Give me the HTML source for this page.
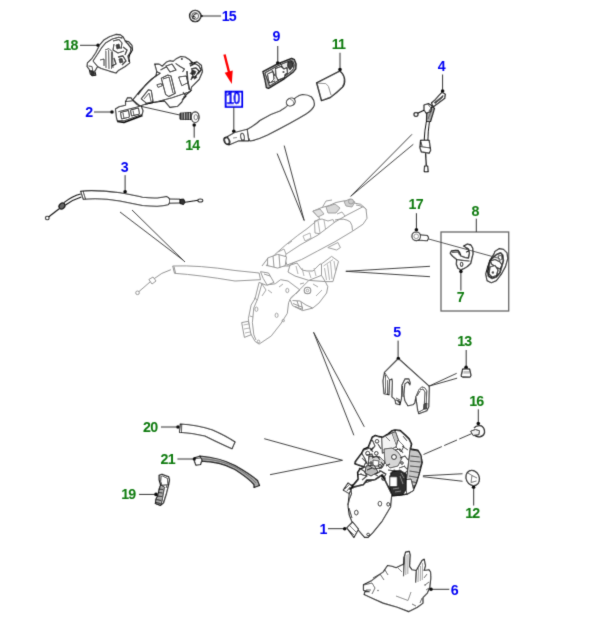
<!DOCTYPE html>
<html><head><meta charset="utf-8">
<style>
html,body{margin:0;padding:0;background:#fff;width:600px;height:634px;overflow:hidden}
svg{display:block}
text{font-family:"Liberation Sans",sans-serif;font-weight:bold;font-size:15px}
</style></head><body>
<svg width="600" height="634" viewBox="0 0 600 634">
<defs><filter id="sf" x="0" y="0" width="600" height="634" filterUnits="userSpaceOnUse"><feConvolveMatrix order="3" kernelMatrix="0.01440 0.09120 0.01440 0.09120 0.57760 0.09120 0.01440 0.09120 0.01440" divisor="1" preserveAlpha="false" edgeMode="duplicate"/></filter></defs>
<g filter="url(#sf)">
<!-- ===== box 10 + red arrow ===== -->
<rect x="225.7" y="91.7" width="16.4" height="15.1" fill="#fff" stroke="#0000f4" stroke-width="2"/>
<text transform="matrix(0.86 0 0 1.06 226.8 104.2)" fill="#0000f4" stroke="#0000f4" stroke-width="0.45" letter-spacing="-0.9">10</text>
<line x1="224.5" y1="54.5" x2="229.5" y2="74" stroke="#f00" stroke-width="2.4"/>
<polygon points="224.7,72.7 232.7,70.4 231.8,84" fill="#f00"/>

<!-- ===== gray leader lines ===== -->
<g stroke="#383838" stroke-width="0.95" fill="none">
<path d="M120 212L183 260M132 210L185 262"/>
<path d="M277.1 153.5L304.2 220.5M284.2 145.6L304.2 220.5"/>
<path d="M412 134.3L350.7 196.3M413.3 144.3L350.7 196.3"/>
<path d="M345.8 271.3L430 266.3M345.8 271.3L430 276.7"/>
<path d="M313.6 332.3L353.9 435.3M313.6 332.3L364.3 426.8"/>
<path d="M264.2 438.7L342.5 460.3M270 474.7L342.5 460.3"/>
<path d="M422.9 475.8L462.5 473.75M422.9 476.7L462.5 481.25"/>
<path d="M423.5 454.5L471.8 433.6" stroke-dasharray="20 2.5 14 2.5 40"/>
<path d="M456.7 373.3L428.75 386.25M457.1 378.2L428.75 386.25"/>
<path d="M140.3 106.2L179.7 115"/>
</g>
<rect x="441" y="232" width="67.7" height="79" fill="none" stroke="#666" stroke-width="1.3"/>

<!-- ===== central assembly (light gray) ===== -->
<g stroke="#8c8c8c" stroke-width="0.95" fill="#fff" stroke-linejoin="round">
<!-- light cable -->
<path d="M172.7 266Q199 265 235 270.5L259.1 273L260.5 279.7L235 281Q199 275 174.5 273.3Z"/>
<path d="M174 266.5L175.5 273" fill="none"/>
<path d="M170.9 269.7Q162 272 152.5 279.8L137.8 292.6" fill="none"/>
<path d="M148.9 279.5L153 277L156 281L152 284Z"/>
<circle cx="137.5" cy="292.8" r="1.8"/>
<!-- lower plate -->
<path d="M259.1 282.4L255.1 298.5L251.1 305.2L248.4 318.6L249.7 332L255.1 341.4L259.1 344.1L271.2 336L280.6 324L287.3 313.3L288.6 302.5L291.3 297.2L300 290L288 281L280.6 279.7L275.2 283.8L265.8 285.1Z"/>
<path d="M261.8 283.8L257.8 298.5L253.8 307.9L252.4 322.6L253.8 334.7L256 340" fill="none"/>
<path d="M241.7 322.6L248.4 321.3L251.1 334.7L244.4 337.4Z"/>
<path d="M243.5 325L248.5 324M244 329L249.5 328M245 333L250 332" fill="none" stroke-width="0.7"/>
<ellipse cx="287.3" cy="290.5" rx="1.5" ry="2.2" fill="none" stroke="#999"/>
<ellipse cx="256.4" cy="309.2" rx="1.5" ry="2.2" fill="none" stroke="#999"/>
<ellipse cx="276.6" cy="315.3" rx="1.5" ry="2.2" fill="none" stroke="#999"/>
<circle cx="283.3" cy="320.6" r="1.2" fill="none" stroke="#999"/>
<circle cx="258.5" cy="341.4" r="1.3" fill="none" stroke="#999"/>
<path d="M254 298L258 300M250 316L253 317M262 284L266 290L262 296M279 287L283 284M268 290L272 293" fill="none" stroke="#999"/>
<!-- mechanism lower right -->
<path d="M290 299.3L308.9 280.4L325.3 281.6L327.8 286.7L326.6 293L319 303L312.7 308.1L302.6 310.6L292.5 305.6Z"/>
<path d="M292.5 300.5L300 301L306 305L312.7 308M293 303.5L303 307.5M295 306.5L303 309.5M297 301L299 307M301 302L302.5 309" fill="none" stroke="#888"/>
<circle cx="307.5" cy="290.5" r="3.3" fill="none" stroke="#888" stroke-width="1.1"/>
<circle cx="307.5" cy="290.5" r="1.3" fill="none" stroke="#999"/>
<path d="M300 284L304 283M313 284L318 287M316 296L322 290M296 294L300 290" fill="none" stroke="#999"/>
<!-- rib box -->
<path d="M321.5 264L331.6 256.4L338.5 261.4L332.9 281.6L325.3 281.6L321.5 275.3Z"/>
<path d="M323.5 266L333 259.5M324.5 268L326.5 280M327.5 264.5L329.5 280M330.5 262L332 279M334 261L335.5 271" fill="none" stroke="#aaa"/>
<path d="M327.8 247.6L337.9 242.5L340.4 247.6L336.6 250Z" fill="none" stroke="#999"/>
<!-- under-cover bracket -->
<path d="M290 265.2L297 263L302 270L307 271L313 271L320 264L321.5 264L321.5 275.3L308.9 280.4L295 276L288 272Z"/>
<path d="M296 266L298 274M302 268L304 276M309 272L311 278M314 268L316 276" fill="none" stroke="#aaa"/>
<!-- bracket above cover -->
<path d="M266.3 265.6L275.1 254.3L285.2 245.4L297.8 235.4L307 228.8L314 223L319.8 218.3L312.8 211.3L321 207.8L329.2 205.5L336 202.5L344.3 200.8L349 202L354.8 203.2L360.7 204.3L366 209L363 220L341 236L320 248L300 258L289 266Z"/>
<path d="M314.5 221L322 219L328 221L333 219.5L335 224L330 232L322 234L315 233Z" fill="none" stroke="#999"/>
<path d="M318 221L320 233M324 220L326 232M303 236L310 233L311 238L305 241Z" fill="none" stroke="#aaa"/>
<path d="M313 211L320 209L324 214L318 217Z" fill="#e2e2e2" stroke="#999"/>
<path d="M326 207L335 204L340 208L336 213L328 213Z" fill="#d8d8d8" stroke="#999"/>
<path d="M344 201.5L350 199L355 202L352 207L346 206Z" fill="#d0d0d0" stroke="#999"/>
<circle cx="351" cy="201.5" r="2.5" fill="#ccc" stroke="#999"/>
<path d="M337 214L342 212L345 216M356 205L361 206L364 210" fill="none" stroke="#999"/>
<path d="M322 208L326 201L332 200M278 252L284 249L286 254M288 244L292 241M274 258L279 256" fill="none" stroke="#999"/>
<!-- handle cover -->
<path d="M285.9 254.3L300 245L318 235L335 222L347 215L363 206.7L366 209L367 218.3L363 224.2L352.5 231.2L335 241.7L317.5 251L301.6 259.5L287.1 265Q283.5 260 285.9 254.3Z"/>
<path d="M335 220Q344 217.5 350.2 221.8Q352.5 225 352.5 230.5" fill="none"/>
<!-- connector left of cover -->
<path d="M267.6 258L277.7 254.3L286.5 256.8L285.2 265.6L277.7 268.1L267.6 265.6Z"/>
<path d="M273 256L274 267M279 255L280 267.5" fill="none"/>
<path d="M260.5 271.7L268.5 273L273.9 282.4L267.2 285.1L263.2 278.4Z"/>
<path d="M262 266L268 258M264 274L270 276" fill="none"/>
</g>
<!-- ===== part 15 nut ===== -->
<g stroke="#111" fill="none">
<circle cx="195.2" cy="16" r="5.6" stroke-width="1.4" fill="#f4f4f4"/>
<circle cx="195.2" cy="16" r="3.4" stroke-width="1" stroke="#555"/>
<path d="M192.5 18.5Q193 14 197 13.5" stroke-width="1.2"/>
<circle cx="194" cy="17.5" r="1.2" stroke-width="0.9"/>
<path d="M200.5 14.8L203 16L200.5 17.2Z" fill="#111" stroke-width="0.8"/>
</g>

<!-- ===== part 18 ===== -->
<g stroke="#111" stroke-width="1.1" fill="#fff" stroke-linejoin="round">
<path d="M87.5 62.9L92.1 58.3L95.8 52.8L99.4 45.4L104 39.9L109.5 36.7L115.9 34.4L120.5 34.9L123.3 37.2L125.1 40.8L128.8 41.8L132 45.4L132.5 50L129.7 54.6L128.8 58.3L129.7 62.9L125.1 66.5L118.7 70.2L116 73L109.5 71.1L101.3 68.4L97.6 66.5L94.8 71.1L95.8 75.2L92.1 75.7L90.3 73.9L89.3 69.3L87 66.5Z"/>
<path d="M93 61L98.5 52.8L101.3 48.2L105.9 42.7L112.3 39L118.7 37.2L122.4 38.1" fill="none"/>
<path d="M97.6 66.5L93 61" fill="none"/>
<path d="M105 50L109 48.5L112.5 52L113 68M105.9 51L106 68M108.6 50L109 69M111.4 52L111.5 69" fill="none" stroke-width="0.8"/>
<path d="M113 41L119 39.5L122 43L121 49M114 44L113 50L118 53L124 51" fill="none" stroke-width="1.1"/>
<path d="M116 45L119 44L120 48L117 49Z" fill="#444" stroke-width="0.8"/>
<path d="M125 41L128 44L131 48L130.5 52L128 56L129 62M123 47L127 50L125 55M118 57L123 56L126 61L122 65M114 58L116 64L112 66" fill="none" stroke-width="1.3"/>
<path d="M119 59L122 58.5L123 62L120 63Z" fill="#555" stroke-width="0.8"/>
<path d="M100 60L104 59L104 66M88.5 66L92 66.5L93 72" fill="none" stroke-width="0.9"/>
<path d="M89.5 70L94 71.5L94.5 74.5L91 75" fill="#333" stroke-width="0.8"/>
</g>
<!-- ===== part 2 ===== -->
<g stroke="#111" stroke-width="1.1" fill="#fff" stroke-linejoin="round">
<path d="M154.75 64.1L159.1 64.1L162.3 66.25L166.7 61.9L170 60.8L173.2 61.4L176.4 58.7L180.75 56.5L185.1 57L189.4 59.75L192.7 63L197 61.9L201.3 65.2L202.4 71.7L199.2 79.25L191.6 86.8L190.5 91.2L184 96.6L181.8 102L177.5 106.3L170 107.4L164.5 100.9L155.8 102L145 104.2L140 106L132.9 99.8L140.3 90.6L148.5 82.3L155.9 75.9L156.9 71.7Z"/>
<path d="M156.9 71.7L160.2 73.3L151.5 79.25L145 85.75L138 95" fill="none"/>
<path d="M145 104.2L155.8 102L172.1 97.7L188.3 92.25L191.6 90" fill="none"/>
<path d="M161.25 78.2L167.75 75L171 76L175.3 93.3L168.8 96.6L165.6 94.4Z"/>
<path d="M163 79L169 77L173 93M156.9 84.7L161.25 83.6L162.3 85.75L158 87.4Z" fill="none" stroke-width="0.9"/>
<path d="M141.2 98.9L148.5 89.7L151.3 90.6L153.1 101.6L146.7 103.4Z"/>
<path d="M144 99L149 93L151 101" fill="none" stroke-width="0.8"/>
<path d="M178.6 77L186 76L188.3 82.5L181.8 85.75Z" fill="none" stroke-width="1"/>
<circle cx="181.8" cy="59" r="1" fill="#111" stroke="none"/>
<path d="M166 66L172 64L176 70L170 72ZM160.5 70L166 67" fill="none" stroke-width="1.2"/>
<path d="M175.6 63.4L180 66.5L184.5 69L182.5 72" fill="none" stroke-width="1.1"/>
<path d="M187 71L187.6 80.4L189.5 89.9" fill="none" stroke-width="1.6"/>
<path d="M190 66L195 63.5L199 66L201 70L198 74M191 69L196 68L199 71L196 76L192 78M190 73L193 75L191 80M194 79L197 77M189.5 64L192.5 62.5" fill="none" stroke-width="1.4"/>
<path d="M192 70L196 71.5L194.5 74.5L191.5 73Z" fill="#333" stroke-width="0.9"/>
<path d="M183 92L186 96L182 100" fill="none" stroke-width="1.1"/>
<!-- left block -->
<path d="M115.5 109L119.2 106.7L125.6 105.3L125.6 101.6L127.4 97.9L131.1 97.9L132.9 100.7L136.6 104.4L141.2 106.2L143 110.8L142.1 114.4L123.8 120.9L117.3 120.9L116.4 117.2Z"/>
<path d="M118.3 111.7L140.3 106.2M125.6 101.6L131.1 101L132.9 100.7" fill="none" stroke-width="0.9"/>
<path d="M117.3 121.5L124 122.5L142.5 115.5" fill="none" stroke-width="1.6"/>
<path d="M120.5 112.5L128.5 110.5L129.5 117L121.5 119ZM130.5 110L138.5 108L139.5 114L131.5 116Z" fill="none" stroke-width="1"/><path d="M123 113L124 118.5M133 110.5L134 115.5" fill="none" stroke-width="0.8"/>
</g>
<!-- ===== part 14 bolt ===== -->
<g stroke="#111" stroke-width="1" stroke-linejoin="round">
<path d="M180 113.2L191 112.5L191 119.5L180 119.2Z" fill="#333"/>
<path d="M182 113V119.2M184.5 113V119.3M187 112.8V119.4M189.5 112.7V119.5" stroke="#fff" stroke-width="0.6"/>
<ellipse cx="195.2" cy="117.2" rx="3.9" ry="5.3" fill="#fff" stroke-width="1.2"/>
<ellipse cx="195.8" cy="117.2" rx="1.8" ry="2.6" fill="none" stroke="#777"/>
</g>

<!-- ===== part 9 ===== -->
<g stroke="#111" stroke-width="1.3" stroke-linejoin="round">
<path d="M262.9 71.6L277.6 63.9L291.6 58.3L294.4 59.7L296.1 63.9L295.8 68.8L293 72.3L284.6 78.6L268.5 88.4L266.4 87.7L265 80Z" fill="#a8a8a8"/>
<path d="M265 73L277.5 66L290.5 60.5L293 61.5L294 65L293.5 68.5L291 71.5L283.5 77L269.5 86L267.5 80Z" fill="#e8e8e8" stroke-width="0.9"/>
<path d="M275.5 68.5L281 66.5L284 69L287 67.5L287.4 73L285 74.5L284.5 77.5L278 80L276 76Z" fill="#fff" stroke-width="1.1"/>
<path d="M267.5 74L273 71.5L274 79L270 83L268.5 80Z" fill="#fff" stroke-width="1"/>
<path d="M288 62L292 61.5L293 66L290 70L287.5 66Z" fill="#444" stroke-width="0.9"/>
<circle cx="283.5" cy="72" r="1" fill="#111" stroke="none"/>
<path d="M269 83L275 81M280 62.5L283 68M272 70L275 76" fill="none" stroke-width="0.9"/>
</g>
<!-- ===== part 11 ===== -->
<g stroke="#222" stroke-width="1.5" fill="#fff" stroke-linejoin="round">
<path d="M316.7 82.8L339.7 71.1Q343.5 73.5 344.5 79Q345 84 342.5 87Q337 92.5 330.2 97.5L321.5 100.6Z"/>
<path d="M318 83.2L325.8 83.6L328.4 86.3L331 95" fill="none" stroke="#888" stroke-width="1"/>
</g>

<!-- ===== part 10 handle ===== -->
<g stroke="#222" stroke-width="1.15" fill="#fff" stroke-linejoin="round">
<path d="M247.2 129.5Q254 126 260 120.5Q270 114 280 111Q286 108 290 103Q296 96 302.5 94.5Q308 94.5 311.5 97Q315 101 314.2 105.5Q312.5 110 306 114Q292 122.5 267.5 135Q257 140 250 141Q246.5 136 247.2 129.5Z"/>
<path d="M227.2 136.7L234.7 132.5L247.2 129.2L248.8 140.8L238.8 140.8L228.8 145Z"/>
<ellipse cx="242.5" cy="136.8" rx="1.8" ry="3.6" transform="rotate(-10 242.5 136.8)" fill="none" stroke-width="1"/>
<ellipse cx="226.9" cy="140.8" rx="2.4" ry="3.5" transform="rotate(-25 226.9 140.8)" fill="#fff" stroke-width="1.8"/>
<ellipse cx="290.8" cy="102" rx="4.6" ry="3.8" transform="rotate(-30 290.8 102)" stroke-width="1.1"/>
<path d="M290 99Q294 100 294 104" fill="none" stroke-width="0.8" stroke="#666"/>
<path d="M233 138L237 137.5" fill="none" stroke-width="0.8" stroke="#666"/>
</g>
<!-- ===== part 3 cable ===== -->
<g stroke="#111" stroke-width="1.1" fill="#fff" stroke-linejoin="round">
<path d="M80.7 194Q72 196 64 202.7" fill="none"/>
<path d="M81.3 197Q73 199.5 65.5 205" fill="none"/>
<ellipse cx="62" cy="206" rx="3.2" ry="2.6" transform="rotate(-40 62 206)" fill="#666" stroke-width="1.2"/>
<path d="M59.5 208.5L48.5 217" fill="none"/>
<circle cx="47.3" cy="218" r="1.8" fill="#fff"/>
<path d="M80.7 191.3Q93 189.5 120 192.75Q135 195.5 142.5 197.25Q150 198.3 157.5 198Q163 197.3 166.5 196.5Q170 198 169.8 201Q169.5 204 168 204.75Q163 206 157.5 206.25Q150 206.3 142.5 205.5Q130 203 120 201Q100 197.5 83.3 199.3Z"/>
<path d="M83 191L85.5 199" fill="none" stroke-width="0.9"/>
<path d="M169.5 199L180 199.2L180 203L169.5 203.2Z" stroke-width="1"/>
<path d="M180 199.5L183.5 199L185 202L183.5 204.5L180 203.5Z" fill="#333" stroke-width="1"/>
<path d="M185 202.3Q192 201.3 198 200.3" fill="none"/>
<ellipse cx="200.3" cy="200.5" rx="2.4" ry="1.5" fill="#fff"/>
</g>
<!-- ===== part 4 cable ===== -->
<g stroke="#111" stroke-width="1.2" fill="#fff" stroke-linejoin="round">
<path d="M442 92.3L445.3 94.3L444.7 98.3L436.7 104.3L433.3 106.8L431.5 103L435.3 99.7L440.7 93.7Z"/>
<path d="M434 103L443 95.5L442.5 97.5L435 103.5" fill="#777" stroke-width="0.9"/>
<path d="M426.7 113.7L432 107L434.5 108.3L430.5 121.5L426.5 121.5Z" fill="#aaa"/>
<path d="M428 119L432 109" fill="none" stroke="#555" stroke-width="0.8"/>
<path d="M424 105L428.7 103.7L432 105.7L430.7 111.7L426 113L424 109.7Z"/>
<path d="M428 104.5L431 108L429 111" fill="none" stroke-width="0.8"/>
<path d="M424 110.3L417.7 113.3" fill="none"/>
<ellipse cx="416" cy="114.5" rx="2" ry="1.8" fill="#fff"/>
<path d="M426.3 122Q424.5 131 424.2 140.4M429.4 122Q428 131 427.9 140.4" fill="none" stroke-width="1"/>
<path d="M420.6 140.4L429.1 140.4L430.6 150.3L429.1 153.2L421.3 151.8L419.9 147.5Z"/>
<path d="M420.2 146.5L430.3 148M421 141.5L422 146" fill="none" stroke-width="0.9"/>
<path d="M425.6 153.2L426.3 166" fill="none"/>
<path d="M424.6 166L427.6 166L428.2 171.6L424.3 171.6Z"/>
</g>
<!-- ===== part 17 bolt ===== -->
<g stroke="#111" stroke-width="1.1" fill="#fff">
<path d="M417 234.5L427 235.5Q430 238 427 240.8L417 240Z"/>
<circle cx="416.2" cy="236.3" r="4.3"/>
<circle cx="416.2" cy="236.3" r="2.3" stroke="#888" stroke-width="0.9"/>
</g>

<!-- ===== part 7 striker ===== -->
<g stroke="#1a1a1a" stroke-width="1.3" fill="#fff" stroke-linejoin="round" stroke-linecap="round">
<path d="M463.6 246L467.4 244.1L470.8 245L472.7 248.3L473 253.8L471.9 258.2L470.8 263.2L467.4 266.5L463.6 268.7L460.8 269.8L458 268.2L456.4 264.3L456.7 259.5L452.5 256L450.3 253.3L451.4 251L455.8 250.5L458 250.5L459.7 252.7L460.8 256L465.2 257.7L468.5 258L469.5 253L468.5 249L466 247.5Z"/>
<path d="M456.7 259.5Q462 260.5 469.1 261" fill="none" stroke-width="1.1"/>
<path d="M452.5 252.5L458 252L459.5 255" fill="none" stroke-width="0.9"/>
<ellipse cx="461.6" cy="264.3" rx="1.3" ry="2.1" fill="none" stroke-width="1.1"/>
<path d="M466 248L468.3 248.5L468.6 251L466.5 252" fill="none" stroke-width="1.1"/>
</g>
<!-- ===== part 8 plate ===== -->
<g stroke="#222" stroke-width="1.2" fill="#fff" stroke-linejoin="round">
<path d="M494.9 251.5L499.1 248.7L503.4 249.4L507 252.9L507.7 258.6L505.5 266.4L501.3 274.2L496.3 280.6L491.3 282.7L487.1 280.6L485.7 274.2L487.8 266.4L490.6 259.3L494.2 253.6Z"/>
<path d="M496.5 254.5L500.6 252.9L502.7 255L503.4 260.7L499.9 272.8L496.3 277L492.1 278.5L488.5 276.3L487.8 271.4L489.9 260.7Z" fill="#eee" stroke-width="1.7"/>
<path d="M490.5 261L495 259.5L500 262L502 265L500 269L496 267L491.5 264Z" fill="#fff" stroke-width="1.3"/>
<path d="M490 267L495 265.5L498 270L496.5 275.5L492 277L489 274Z" fill="#fff" stroke-width="1.3"/>
<circle cx="492.9" cy="272.5" r="1.2" fill="#333" stroke="none"/>
<path d="M498 256L501.5 255.5L502 259L499.5 260.5Z" fill="#fff" stroke-width="0.8"/>
</g>
<path d="M428.7 239L500 258.6" stroke="#444" stroke-width="0.9"/>
<!-- ===== part 5 cover ===== -->
<g stroke="#1a1a1a" stroke-width="1.1" fill="#fff" stroke-linejoin="round">
<path d="M398.4 358.5L384.5 372.4L383 380.9L384 393.8L389 394.8L389.5 379.9L391.9 378.9L392.4 381.9L391.9 396.8L394.9 399.3L395.9 403.8L399.9 404.8L401.4 398.8L401.9 384.9L404.9 378.9L408.9 378.9L410.3 382.9L409.9 384.9L407.9 381.9L404.9 383.9L403.9 394.8L404.9 400.8L407.9 405.7L412.8 404.8L414.8 402.8L415.8 396.8L417.8 410.7L418.8 413.7L426.8 410.7L428.8 406.7L429.3 387.8L428.8 385.8Z" fill="#fff"/>
<path d="M384.5 372.4L387 376L389.5 379.9M385.5 375L385.5 393M387.5 380L387.5 394" fill="none" stroke-width="0.8"/>
<path d="M415.8 396.8L418.8 389.8L421.8 386.8L424.8 387.8L426.8 390.8L426 408L419 412M420 390L423 389L425 392L424 409M417 396L420 391" fill="none" stroke-width="0.9"/>
<path d="M402.5 386L403 397M396 398L400 400" fill="none" stroke-width="0.8"/>
<path d="M396 400L399.5 401L399.5 404" fill="#555" stroke-width="0.8"/>
<path d="M424 404L427 403L426.5 409L423.5 409Z" fill="#555" stroke-width="0.8"/>
</g>
<!-- ===== part 13 cap ===== -->
<g stroke="#1a1a1a" stroke-width="1.3" fill="#fff" stroke-linejoin="round">
<path d="M462.7 369.2Q466 368.3 469.6 369.2L470.9 375.3Q470.5 377.2 469.6 377.2L462.7 377Q461 376.5 461.3 375.3Z"/>
<path d="M463.5 371.8L469 371.8M463.5 373L469.2 373" fill="none" stroke="#999" stroke-width="0.9"/>
</g>
<!-- ===== part 16 ===== -->
<g stroke="#111" stroke-width="1.3" fill="#fff" stroke-linejoin="round">
<path d="M474 428Q477 424.8 481 425.8Q484.8 428 484.5 432.5Q483.5 436.8 478.5 436.8Q474.5 436.2 473.5 434" />
<path d="M470.7 431.2L475.4 429.5L479.5 430.7L478.9 434.8L473 435.4Z" fill="#f2f2f2" stroke-width="1"/>
</g>
<!-- ===== part 12 grommet ===== -->
<g stroke="#222" stroke-width="1.3" fill="#fff">
<ellipse cx="472.7" cy="478" rx="6.5" ry="7.8" transform="rotate(-25 472.7 478)"/>
<path d="M468 473L472 475.5L477 478M472 475.5L471 482.5M471 482.5L476.5 481" fill="none" stroke="#555" stroke-width="0.9"/>
</g>
<!-- ===== part 1 lock ===== -->
<g stroke="#111" stroke-width="1.1" fill="#fff" stroke-linejoin="round">
<path d="M350.4 485.4L364.6 483L375.2 479.5L382.3 474.7L389.4 481.8L391.8 493.6L390.6 506.7L382.3 520.8L372.8 532.7L368.1 537.4L364.6 537.4L358.6 530.3L351.6 520.8L349.2 514.9L348 505.5L349.2 499.6L351.6 493.6L350.4 487.7Z"/>
<path d="M343.3 490.1L348 483L352.7 486.6L349.2 493.6Z"/>
<path d="M345 489L349 485M347 491L350 487" fill="none" stroke-width="0.8"/>
<path d="M346.8 527.9L352.7 522L358.6 529.1L353.9 537.4Z"/>
<path d="M349 525L356 532M348 529L354 535" fill="none" stroke-width="0.8"/>
<ellipse cx="379.9" cy="503.7" rx="1.8" ry="2.4" fill="none" stroke-width="0.9"/>
<ellipse cx="356.3" cy="512.6" rx="1.8" ry="2.4" fill="none" stroke-width="0.9"/>
<ellipse cx="388.2" cy="504.3" rx="1.4" ry="1.8" fill="none" stroke-width="0.9"/>
<ellipse cx="368.1" cy="534.4" rx="1.4" ry="1.2" fill="none" stroke-width="0.9"/>
<path d="M349.2 494L348 505M349 508L352 518" fill="none" stroke-width="0.9"/>
<!-- mechanism -->
<path d="M375.4 435.5L379 436.7L383 437.3L388.3 434L392.3 430.7L395 430L400.2 430.7L405.2 435.1L409 438.9L411.5 444L410.3 449L417.8 450.3L420.5 455L422 462.5L419 473.75L416 483.5L413 490.25L407 494L402.5 494.75L392.6 495.7L390.1 490.6L382.3 474.7L375.2 479.5L366.6 480.2L363.3 484.7L354.4 486.9L350 489.1L358.3 479.1L357.7 472.5L359.9 469.2L364.4 467L355 463.7L355.5 461.5L361.7 453.3L363.7 449.3L368.3 447.3L372.3 437.3Z" stroke-width="1.7"/>
<!-- light box on top -->
<path d="M381.7 438L392 433L397 446.5L382.3 453.3Z" fill="#f4f4f4" stroke-width="0.9"/>
<path d="M392 433L395.5 431.5L400 444L397 446.5" fill="#c4c4c4" stroke-width="0.9"/>
<!-- left textured area -->
<path d="M361.7 453.3L365 458.7L367 464M364 450L370 448L373 452M372.3 440L375 446L371 451M366 455L372 454L374 460L369 462M359 468L364 471L367 476L362 480" fill="none" stroke="#222" stroke-width="1.1"/>
<circle cx="377" cy="441.3" r="1.8" fill="none" stroke-width="1"/>
<circle cx="367.7" cy="453.3" r="2" fill="none" stroke-width="1"/>
<circle cx="376.3" cy="453.3" r="1.8" fill="none" stroke-width="1"/>
<circle cx="389" cy="458" r="2.2" fill="none" stroke-width="1.1"/>
<circle cx="383.5" cy="478.5" r="1.7" fill="none" stroke-width="1.1"/>
<path d="M369 456L380 457L385 462L382 468L374 469L368 465Z" fill="#d4d4d4" stroke="#444" stroke-width="0.8"/>
<path d="M373 460L379 461L378 466L373 466Z" fill="#fff" stroke="#333" stroke-width="0.8"/>
<path d="M384 449L392 448L398 452L402 458L398 466L390 468L385 463Z" fill="#d6d6d6" stroke="#333" stroke-width="0.9"/>
<circle cx="394" cy="457" r="2.4" fill="#fff" stroke-width="1"/>
<path d="M398 440L404 446L401 452L396 447Z" fill="#fff" stroke-width="0.9"/>
<path d="M402 446L408 450M399 468L405 466M388 470L396 471M379 470L385 474M370 472L378 476M357 475L362 474M386 437L390 441M403 436L407 441" fill="none" stroke="#222" stroke-width="1"/>
<path d="M366 466L374 465L378 472L371 476L365 473Z" fill="#bbb" stroke="#222" stroke-width="1"/>
<path d="M362 458L366 462L364 466M370 450L374 447M378 444L381 449M372 458L377 456L380 460M367 470L372 468M360 474L366 476M376 474L381 471L386 474L383 479M390 474L394 470L400 472M400 458L405 456L408 460M404 466L408 470L404 474M386 466L390 464M395 450L400 449L403 453M381 462L384 466" fill="none" stroke="#111" stroke-width="1.05"/>
<circle cx="380" cy="466" r="1.5" fill="none" stroke-width="0.9"/>
<circle cx="402" cy="463" r="1.3" fill="none" stroke-width="0.9"/>
<circle cx="371" cy="463" r="1.2" fill="none" stroke-width="0.9"/>
<path d="M369 456L380 457L385 462L382 468L374 469L368 465Z" fill="none" stroke="#222" stroke-width="1"/>
<!-- ribbed cylinder -->
<path d="M410 449.5L418 451L421 456L421.5 463L419 473.75L416 483.5L413 488.75L410 488.5L406.5 479Z" fill="#c8c8c8" stroke-width="1"/>
<path d="M410.5 456L419.5 457M410 461L420.5 462M410 466L420 467M409.5 471L419 472.5M409 476L417.5 477.5M408.5 481L416 482.5M408.5 485L414.5 486" fill="none" stroke="#333" stroke-width="0.9"/>
<path d="M406 479.75L411 479L413.75 490.25L407 494L406 490Z" fill="#fff" stroke-width="0.9"/>
<!-- dark bottom region -->
<path d="M391.25 472.25L400 470L406.25 474L406 490L402.5 494.75L392.6 495.7L390.1 490.6L389.75 486.5L397.25 486.5L397.25 476.75L389.75 476.75Z" fill="#2e2e2e" stroke-width="1"/>
<path d="M393 489L399 488M400 476L403 484M395 492L401 491M401 473L404 478" fill="none" stroke="#999" stroke-width="0.8"/>
<path d="M389.75 476.75L397.25 476.75L397.25 486.5L389.75 486.5Z" fill="#fff" stroke-width="0.9"/>
</g>

<!-- ===== part 6 ===== -->
<g stroke="#111" stroke-width="1.15" fill="#fff" stroke-linejoin="round">
<path d="M363.5 584.7L372 580.4L383.3 571.9L387.6 565.5L391.8 566.2L396.1 567.7L403.9 564.1L404.2 557L405.6 552.1L409.2 551.4L410.2 555L409.5 566.3L412 569.8L416.3 570.5L422 560.6L424.1 559.2L425.5 565.6L424.1 570.5L429 569.8L430.5 572L430.8 577.6L429.8 587.6L427.2 593.2L423 597.4L423 603.1L417.3 607.3L408.8 611.6L397.5 607.3L383.3 603.1L373.4 598.8L364.2 594.6L364.9 591.7L369.2 591.7L363.5 590.3Z"/>
<path d="M404.2 557L403.5 576.2M416.3 570.5L415.6 582.6" fill="none"/>
<path d="M406 555L405.8 575M408 554L407.8 574M418.5 568L418 582M420.5 566L420.3 581M422.5 563L422.3 580" fill="none" stroke="#888" stroke-width="0.8"/>
<path d="M396 596L408 600.5L411 592" fill="none" stroke-width="0.9" stroke="#777"/>
<path d="M364 585L372 583L375 588L372 594M366 590L371 590M373 578L380 574L384 580M385 570L388 575M398 568L402 572M427 574L424 578M429 582L425 585M426 590L429 588M422 598L420 603M416 606L412 604" fill="none" stroke="#333" stroke-width="0.8"/>
<circle cx="378" cy="590.5" r="0.8" fill="#555" stroke="none"/>
<circle cx="425" cy="585" r="0.8" fill="#555" stroke="none"/>
</g>
<!-- ===== part 20 ===== -->
<g stroke="#111" stroke-width="1.1" fill="#fff" stroke-linejoin="round">
<path d="M180.25 424Q197.5 425 212.5 430Q226 436 235 442L232 448.75Q220 443.5 205 436Q192 433 179.5 432.25Z"/>
<path d="M181.75 424.5L181.5 432" fill="none" stroke-width="0.8"/>
</g>

<!-- ===== part 21 ===== -->
<g stroke="#111" stroke-width="1.2" fill="#fff" stroke-linejoin="round">
<path d="M199.75 456Q220 457.5 235 465.5Q250 474 257.5 480.5L259.5 485.5L254 487.5L254 484.5Q249 478.5 235 469.5Q220 461.5 201.25 461.2Z" fill="#a8a8a8"/>
<path d="M201 458.7Q222 459.8 236 467.5Q250 476 256 483" fill="none" stroke="#666" stroke-width="0.8"/>
<path d="M194.5 457.75L199.75 456.25L202 460L200.5 464.5L196 465.25L194.5 461.5Z"/>
<path d="M196 458.5L200 458" fill="none" stroke-width="0.8"/>
</g>
<!-- ===== part 19 ===== -->
<g stroke="#111" stroke-width="1.2" fill="#fff" stroke-linejoin="round">
<path d="M159.1 475.4L162 474.3L168.7 476.9L169.5 479.8L168.7 484.3L166.5 493.2L163.5 502.8L160.6 505.4L155.4 503.5L156.1 499.1L157.6 496.1L159.1 490.2L160.6 485L159.1 479.8Z"/>
<path d="M160.5 476.5L162.5 476L167.5 478.5L167.7 483.5L166 488" fill="none" stroke-width="0.8"/>
<path d="M161 477L160.7 481.5L162 485.3L166.8 484.8" fill="none" stroke-width="0.9"/>
<path d="M160.6 485L159.1 490.2L157.6 496.1L156.1 499.1L155.4 503.5L160.6 505.4L162 501L163.5 493L164.5 487Z" fill="#aaa" stroke-width="0.9"/>
<path d="M158.5 489L163 489.5M158 492.5L162.5 493M157 496L162 496.5M156.5 499.5L161 500.5M156 502.5L160.5 503.5" fill="none" stroke="#111" stroke-width="0.9"/>
</g>
<!-- ===== black leaders ===== -->
<g stroke="#333" stroke-width="1" fill="none">
<path d="M201 16H221"/>
<path d="M80 45.3H98"/>
<path d="M94 112H112"/>
<path d="M194.2 125V137.7"/>
<path d="M277.75 46V63"/>
<path d="M340 52.75V69.25"/>
<path d="M233.8 107V131"/>
<path d="M442.6 74.5V91"/>
<path d="M125.1 175.2V191.8"/>
<path d="M416.4 213.2V229"/>
<path d="M476.3 218.7V232"/>
<path d="M460.9 271.5V290.6"/>
<path d="M398.1 340.6V358"/>
<path d="M466.2 350V366.7"/>
<path d="M478.3 409.3V423"/>
<path d="M473.7 487V505.5"/>
<path d="M328 528.7H344.7"/>
<path d="M431 589.3H449.3"/>
<path d="M161 427H178"/>
<path d="M177.4 459H194.4"/>
<path d="M139 494.4H156"/>
</g>

<g fill="#111">
<circle cx="98" cy="45.3" r="1.7"/>
<circle cx="112" cy="112" r="1.8"/>
<circle cx="194.2" cy="125" r="1.8"/>
<circle cx="277.75" cy="63" r="1.8"/>
<circle cx="340" cy="69.5" r="1.8"/>
<circle cx="233.8" cy="131.3" r="1.8"/>
<circle cx="442.6" cy="91" r="1.8"/>
<circle cx="125.1" cy="191.8" r="1.8"/>
<circle cx="416.4" cy="229.8" r="1.8"/>
<circle cx="460.9" cy="271.5" r="1.8"/>
<circle cx="398.3" cy="358.5" r="1.8"/>
<circle cx="466.1" cy="367.2" r="1.8"/>
<circle cx="478.3" cy="423.5" r="1.8"/>
<circle cx="473.6" cy="487.3" r="1.8"/>
<circle cx="344.7" cy="528.7" r="1.8"/>
<circle cx="431" cy="589.3" r="1.8"/>
<circle cx="178" cy="427" r="1.8"/>
<circle cx="194.4" cy="459" r="1.8"/>
<circle cx="156" cy="494.4" r="1.8"/>
</g>

<g id="labels">
<text transform="matrix(0.95 0 0 0.98 221.68 20.60)" fill="#0000f4" letter-spacing="-0.85">15</text>
<text transform="matrix(0.95 0 0 0.98 63.28 49.90)" fill="#0b7a0b" letter-spacing="-0.85">18</text>
<text transform="matrix(0.95 0 0 0.98 85.31 116.70)" fill="#0000f4">2</text>
<text transform="matrix(0.95 0 0 0.98 185.19 150.40)" fill="#0b7a0b" letter-spacing="-0.85">14</text>
<text transform="matrix(0.95 0 0 0.98 272.46 41.40)" fill="#0000f4">9</text>
<text transform="matrix(0.95 0 0 0.98 331.66 49.00)" fill="#0b7a0b" letter-spacing="-0.85">11</text>
<text transform="matrix(0.95 0 0 0.98 437.81 70.90)" fill="#0000f4">4</text>
<text transform="matrix(0.95 0 0 0.98 120.86 171.50)" fill="#0000f4">3</text>
<text transform="matrix(0.95 0 0 0.98 408.58 209.20)" fill="#0b7a0b" letter-spacing="-0.85">17</text>
<text transform="matrix(0.95 0 0 0.98 471.38 215.65)" fill="#0b7a0b">8</text>
<text transform="matrix(0.95 0 0 0.98 456.71 302.40)" fill="#0b7a0b">7</text>
<text transform="matrix(0.95 0 0 0.98 393.26 336.50)" fill="#0000f4">5</text>
<text transform="matrix(0.95 0 0 0.98 457.23 345.90)" fill="#0b7a0b" letter-spacing="-0.85">13</text>
<text transform="matrix(0.95 0 0 0.98 469.13 406.10)" fill="#0b7a0b" letter-spacing="-0.85">16</text>
<text transform="matrix(0.95 0 0 0.98 465.23 517.75)" fill="#0b7a0b" letter-spacing="-0.85">12</text>
<text transform="matrix(0.95 0 0 0.98 319.47 534.00)" fill="#0000f4">1</text>
<text transform="matrix(0.95 0 0 0.98 450.66 594.60)" fill="#0000f4">6</text>
<text transform="matrix(0.95 0 0 0.98 143.02 431.90)" fill="#0b7a0b" letter-spacing="-0.85">20</text>
<text transform="matrix(0.95 0 0 0.98 160.57 464.00)" fill="#0b7a0b" letter-spacing="-0.85">21</text>
<text transform="matrix(0.95 0 0 0.98 121.18 498.60)" fill="#0b7a0b" letter-spacing="-0.85">19</text>
</g>
</g>
</svg>
</body></html>
